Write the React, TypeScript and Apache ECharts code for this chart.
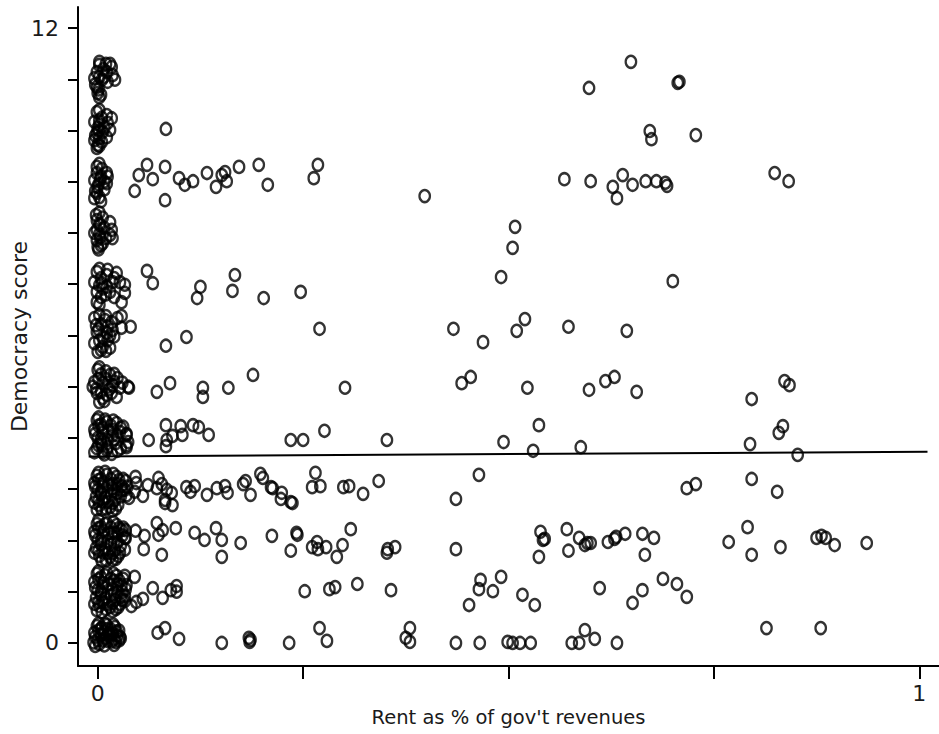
import React, { useEffect, useRef } from "react";
import * as echarts from "echarts";

// Each band: [rent share of gov't revenues, jittered democracy score]
const scoreBand11: number[][] = [
  [0.002, 11.28], [0.017, 11.24], [-0.001, 11.14], [0.011, 11.14], [0.018, 11.08], [-0.004, 11.02],
  [0.005, 10.99], [0.012, 10.95], [0.021, 10.99], [-0.001, 10.85], [0, 10.73], [0.002, 10.65],
  [0.007, 11.2], [0.008, 11.05], [-0.003, 10.9], [0.015, 11.3],
  [0.002, 11.34], [0.01, 11.3], [0.002, 11.05], [0.001, 10.8], [0.004, 10.7],
  [0.649, 11.34], [0.598, 10.83], [0.706, 10.93], [0.708, 10.95],
];
const scoreBand10: number[][] = [
  [-0.001, 10.36], [0.011, 10.3], [0.017, 10.24], [-0.004, 10.17], [0.012, 10.15], [0, 10.05],
  [0.015, 10.01], [-0.001, 9.95], [0.011, 9.87], [-0.004, 9.81], [0, 9.72], [-0.001, 9.66],
  [0.002, 10.11], [0.006, 9.97], [0.005, 10.25], [0.008, 10.05], [-0.003, 9.9], [0.005, 9.78],
  [0.002, 10.4], [0.002, 10.2], [0.001, 10.0], [0.002, 9.85], [0.002, 9.7],
  [0.083, 10.03], [0.672, 9.99], [0.674, 9.83], [0.728, 9.91],
];
const scoreBand9: number[][] = [
  [-0.001, 9.29], [0.011, 9.17], [-0.001, 9.17], [-0.004, 9.03], [0.011, 8.97], [0, 8.9],
  [-0.001, 8.78], [-0.004, 8.68], [0.002, 8.7], [0.004, 9.1], [0.008, 8.85],
  [0.005, 9.25], [0.008, 9.0], [-0.003, 8.82], [0.012, 9.1],
  [0.002, 9.35], [0.003, 9.05], [0.001, 8.95], [0.004, 8.62],
  [0.045, 8.82], [0.05, 9.13], [0.06, 9.33], [0.067, 9.05], [0.082, 9.29], [0.082, 8.64],
  [0.099, 9.07], [0.106, 8.94], [0.116, 9.01], [0.133, 9.17], [0.144, 8.9], [0.151, 9.13],
  [0.155, 9.19], [0.157, 9.01], [0.172, 9.29], [0.196, 9.33], [0.207, 8.94], [0.263, 9.07],
  [0.268, 9.33], [0.398, 8.72], [0.568, 9.05], [0.6, 9.01], [0.639, 9.13], [0.627, 8.9],
  [0.632, 8.68], [0.651, 8.94], [0.667, 9.01], [0.68, 9.01], [0.691, 8.98], [0.693, 8.92],
  [0.824, 9.17], [0.841, 9.01],
];
const scoreBand8: number[][] = [
  [-0.001, 8.25], [0.015, 8.21], [0.017, 8.06], [-0.001, 8.06], [0.018, 7.9], [-0.001, 7.86],
  [0.015, 7.96], [0, 7.73], [-0.002, 8.35], [0.003, 8.15], [0.002, 7.98], [0.006, 7.8],
  [0.006, 8.3], [0.008, 8.1], [-0.004, 8.0], [0.01, 7.9], [0.004, 7.76],
  [0.002, 8.4], [0.002, 8.18], [0.003, 7.92], [0.001, 7.68],
  [0.508, 8.12], [0.505, 7.71],
];
const scoreBand7: number[][] = [
  [-0.001, 7.24], [0.011, 7.18], [0.023, 7.22], [-0.004, 7.04], [0.005, 7.02], [0.018, 7.04],
  [0.027, 7.04], [0.033, 6.99], [-0.001, 6.85], [0.015, 6.85], [0.033, 6.83], [-0.001, 6.65],
  [0.029, 6.65], [0.011, 6.95], [0.004, 7.12], [0.02, 7.12], [0.004, 6.75], [0.02, 6.75],
  [0.006, 6.92], [0.002, 7.3], [0.012, 7.28], [0.002, 6.98], [0.01, 6.8], [0.002, 6.6],
  [0.06, 7.26], [0.067, 7.02], [0.121, 6.73], [0.125, 6.95], [0.167, 7.18], [0.164, 6.87],
  [0.202, 6.73], [0.247, 6.85], [0.491, 7.14], [0.7, 7.06],
];
const scoreBand6: number[][] = [
  [-0.004, 6.34], [0.009, 6.3], [0.017, 6.26], [0.024, 6.34], [0.029, 6.15], [0.018, 6.11],
  [-0.001, 6.07], [0.011, 6.05], [-0.004, 5.85], [0.006, 5.78], [0.015, 5.76], [0, 5.68],
  [0.012, 5.91], [0.04, 6.17], [0.029, 6.38], [0.004, 6.22], [-0.002, 6.2], [0.006, 5.96],
  [0.02, 5.98], [0.004, 5.72], [0.012, 6.18],
  [0.002, 6.4], [0.01, 6.38], [0.001, 6.12], [0.015, 6.0], [0.002, 5.9], [0.01, 5.7],
  [0.083, 5.8], [0.108, 5.97], [0.27, 6.13], [0.433, 6.13], [0.469, 5.87], [0.51, 6.09],
  [0.52, 6.32], [0.573, 6.17], [0.644, 6.09],
];
const scoreBand5: number[][] = [
  [0, 5.33], [0.015, 5.23], [0.024, 5.17], [-0.004, 5.09], [0.006, 5.07], [0.018, 5.03],
  [0.027, 4.98], [-0.001, 4.88], [0.011, 4.84], [0.023, 4.8], [0.002, 4.7], [0.037, 5.0],
  [-0.006, 5.0], [0.038, 4.98], [0.004, 5.24], [0.01, 5.15], [-0.002, 4.95], [0.014, 4.95],
  [0.02, 5.1], [0.006, 4.78], [0.03, 5.08],
  [0.002, 5.38], [0.01, 5.3], [0.02, 5.25], [0.001, 5.15], [0.012, 5.0], [0.004, 4.9],
  [0.017, 4.88], [0.008, 4.72],
  [0.072, 4.9], [0.088, 5.07], [0.128, 4.98], [0.128, 4.8], [0.159, 4.98], [0.189, 5.23],
  [0.301, 4.98], [0.443, 5.07], [0.454, 5.19], [0.523, 4.98], [0.598, 4.94], [0.618, 5.11],
  [0.629, 5.19], [0.656, 4.9], [0.796, 4.76], [0.836, 5.11], [0.842, 5.03],
];
const scoreBand4: number[][] = [
  [-0.001, 4.35], [0.011, 4.31], [0.023, 4.29], [-0.004, 4.16], [0.006, 4.2], [0.018, 4.16],
  [0.027, 4.12], [0.035, 4.06], [0, 4.0], [0.012, 3.96], [0.037, 3.92], [0.035, 3.82],
  [-0.001, 3.8], [0.011, 3.77], [0.017, 3.69], [0.005, 3.86], [0.035, 4.08], [0.035, 3.86],
  [0.004, 4.26], [0.016, 4.24], [0.028, 4.2], [-0.003, 4.08], [0.006, 4.1], [0.018, 4.05],
  [0.004, 3.92], [0.022, 3.9], [0.028, 3.8], [0.006, 3.72], [-0.004, 3.72],
  [0.001, 4.4], [0.009, 4.36], [0.019, 4.34], [0.031, 4.22], [0.001, 4.24], [0.013, 4.12],
  [0.024, 4.05], [0.004, 3.98], [0.02, 3.98], [0.001, 3.86], [0.012, 3.82], [0.024, 3.75],
  [0.008, 3.68],
  [0.062, 3.96], [0.083, 4.25], [0.101, 4.23], [0.116, 4.25], [0.123, 4.21], [0.135, 4.06],
  [0.103, 4.06], [0.091, 4.04], [0.084, 3.96], [0.083, 3.84], [0.235, 3.96], [0.25, 3.96],
  [0.276, 4.14], [0.352, 3.96], [0.494, 3.92], [0.537, 4.25], [0.53, 3.75], [0.588, 3.82],
  [0.794, 3.88], [0.834, 4.23], [0.829, 4.1], [0.852, 3.67],
];
const scoreBand3: number[][] = [
  [-0.001, 3.26], [0.011, 3.28], [0.023, 3.24], [-0.004, 3.12], [0.007, 3.14], [0.018, 3.1],
  [0.029, 3.06], [0, 2.99], [0.012, 2.97], [0.024, 2.93], [0.033, 2.99], [-0.002, 2.85],
  [0.009, 2.83], [0.021, 2.79], [0.002, 2.69], [0.015, 2.65], [-0.001, 2.6],
  [0.004, 3.2], [0.016, 3.2], [0.026, 3.18], [-0.003, 3.05], [0.006, 3.05], [0.018, 3.02],
  [0.03, 2.98], [0.004, 2.9], [0.016, 2.9], [0.028, 2.86], [0.006, 2.76], [0.018, 2.73],
  [-0.004, 2.74], [0.01, 2.62], [0.022, 2.62],
  [0.001, 3.32], [0.009, 3.34], [0.019, 3.3], [0.031, 3.2], [0.001, 3.18], [0.013, 3.08],
  [0.024, 3.1], [0.036, 3.05], [0.004, 2.94], [0.02, 2.96], [0.035, 2.88], [0.001, 2.78],
  [0.012, 2.75], [0.025, 2.7], [0.005, 2.6], [0.018, 2.58],
  [0.034, 3.16], [0.046, 3.24], [0.047, 3.12], [0.038, 2.83], [0.055, 2.87], [0.045, 2.95],
  [0.061, 3.08], [0.074, 3.22], [0.078, 3.1], [0.072, 3.02], [0.084, 2.99], [0.09, 2.93],
  [0.082, 2.79], [0.091, 2.69], [0.082, 2.73], [0.108, 3.04], [0.118, 3.06], [0.113, 2.95],
  [0.133, 2.89], [0.145, 3.02], [0.155, 3.06], [0.158, 2.93], [0.177, 3.1], [0.18, 3.16],
  [0.186, 2.89], [0.198, 3.3], [0.201, 3.22], [0.211, 3.04], [0.213, 3.02], [0.224, 2.93],
  [0.223, 2.81], [0.235, 2.75], [0.237, 2.73], [0.265, 3.32], [0.261, 3.04], [0.271, 3.06],
  [0.299, 3.04], [0.306, 3.06], [0.323, 2.91], [0.342, 3.16], [0.436, 2.81], [0.464, 3.28],
  [0.717, 3.02], [0.728, 3.1], [0.796, 3.2], [0.827, 2.95],
];
const scoreBand2: number[][] = [
  [-0.001, 2.32], [0.011, 2.34], [0.023, 2.3], [-0.004, 2.17], [0.007, 2.19], [0.02, 2.15],
  [0.029, 2.2], [0, 2.01], [0.012, 1.99], [0.024, 1.97], [0.033, 2.05], [-0.002, 1.85],
  [0.009, 1.83], [0.021, 1.81], [0.002, 1.7], [0.015, 1.68], [0.027, 1.76],
  [0.004, 2.26], [0.016, 2.25], [0.026, 2.24], [-0.003, 2.1], [0.006, 2.08], [0.018, 2.07],
  [0.03, 2.1], [0.004, 1.93], [0.016, 1.92], [0.028, 1.9], [0.006, 1.77], [0.018, 1.75],
  [-0.004, 1.76], [0.01, 1.62], [0.022, 1.64],
  [0.001, 2.4], [0.009, 2.32], [0.019, 2.36], [0.031, 2.25], [0.001, 2.24], [0.013, 2.14],
  [0.024, 2.14], [0.034, 2.05], [0.004, 2.0], [0.02, 1.96], [0.033, 1.82], [0.001, 1.8],
  [0.012, 1.75], [0.025, 1.7], [0.005, 1.6], [0.018, 1.62],
  [0.034, 2.2], [0.046, 2.19], [0.057, 2.09], [0.072, 2.34], [0.074, 2.11], [0.079, 2.2],
  [0.095, 2.24], [0.056, 1.83], [0.078, 1.72], [0.118, 2.15], [0.13, 2.01], [0.144, 2.24],
  [0.151, 2.01], [0.151, 1.68], [0.174, 1.95], [0.212, 2.09], [0.242, 2.15], [0.243, 2.11],
  [0.235, 1.8], [0.261, 1.87], [0.267, 1.97], [0.268, 1.83], [0.278, 1.87], [0.298, 1.91],
  [0.291, 1.68], [0.308, 2.22], [0.352, 1.76], [0.362, 1.87], [0.353, 1.83], [0.436, 1.83],
  [0.539, 2.17], [0.542, 2.01], [0.544, 2.03], [0.537, 1.68], [0.571, 2.22], [0.573, 1.8],
  [0.586, 2.05], [0.593, 1.91], [0.596, 1.95], [0.6, 1.95], [0.621, 1.97], [0.629, 2.03],
  [0.631, 2.07], [0.642, 2.13], [0.663, 2.13], [0.677, 2.05], [0.666, 1.72], [0.768, 1.97],
  [0.791, 2.26], [0.796, 1.72], [0.831, 1.87], [0.875, 2.05], [0.881, 2.09], [0.886, 2.05],
  [0.897, 1.91], [0.936, 1.95],
];
const scoreBand1: number[][] = [
  [-0.001, 1.35], [0.011, 1.37], [0.023, 1.31], [-0.004, 1.19], [0.007, 1.17], [0.02, 1.21],
  [0.029, 1.13], [0, 1.03], [0.012, 1.01], [0.024, 1.0], [-0.002, 0.88], [0.009, 0.86],
  [0.021, 0.84], [0.002, 0.72], [0.015, 0.7], [0.027, 0.76], [-0.001, 0.64],
  [0.004, 1.28], [0.016, 1.25], [0.026, 1.22], [-0.003, 1.08], [0.006, 1.1], [0.018, 1.06],
  [0.03, 1.0], [0.004, 0.95], [0.016, 0.93], [0.028, 0.9], [0.006, 0.79], [0.018, 0.78],
  [-0.004, 0.76], [0.01, 0.66], [0.022, 0.66],
  [0.001, 1.4], [0.009, 1.32], [0.019, 1.36], [0.031, 1.25], [0.001, 1.24], [0.013, 1.14],
  [0.024, 1.14], [0.034, 1.05], [0.004, 1.0], [0.02, 0.96], [0.033, 0.82], [0.001, 0.8],
  [0.012, 0.75], [0.025, 0.7], [0.005, 0.6], [0.018, 0.62],
  [0.033, 1.31], [0.045, 1.29], [0.035, 1.13], [0.033, 0.92], [0.03, 0.84], [0.041, 0.72],
  [0.047, 0.8], [0.055, 0.86], [0.067, 1.07], [0.079, 0.88], [0.089, 1.03], [0.096, 1.11],
  [0.096, 1.0], [0.252, 1.01], [0.282, 1.05], [0.289, 1.09], [0.316, 1.15], [0.357, 1.03],
  [0.452, 0.74], [0.464, 1.05], [0.466, 1.23], [0.481, 1.01], [0.491, 1.29], [0.517, 0.94],
  [0.532, 0.74], [0.611, 1.07], [0.651, 0.78], [0.663, 1.03], [0.688, 1.25], [0.705, 1.15],
  [0.717, 0.9],
];
const scoreBand0: number[][] = [
  [-0.001, 0.33], [0.011, 0.35], [0.021, 0.31], [-0.004, 0.2], [0.007, 0.21], [0.018, 0.18],
  [0.024, 0.14], [0, 0.06], [0.012, 0.04], [0.022, 0.02], [0.002, -0.02],
  [0.004, 0.28], [0.016, 0.26], [0.026, 0.24], [-0.003, 0.12], [0.009, 0.1], [0.02, 0.08],
  [0.005, 0.3], [0.014, 0.13], [0.026, 0.05], [-0.005, 0.01],
  [0.001, 0.38], [0.009, 0.38], [0.019, 0.36], [0.001, 0.24], [0.012, 0.27], [0.023, 0.22],
  [0.004, 0.16], [0.013, 0.19], [0.027, 0.12], [0.006, 0.05], [0.017, 0.03], [0.028, 0.09],
  [-0.003, -0.06], [0.008, -0.05], [0.02, -0.04],
  [0.073, 0.2], [0.082, 0.29], [0.099, 0.08], [0.151, 0.0], [0.184, 0.1], [0.185, 0.02],
  [0.186, 0.06], [0.233, 0.0], [0.27, 0.29], [0.279, 0.04], [0.38, 0.29], [0.375, 0.1],
  [0.38, 0.02], [0.436, 0.0], [0.465, 0.0], [0.499, 0.02], [0.505, 0.0], [0.514, 0.0],
  [0.527, 0.0], [0.577, 0.0], [0.586, 0.0], [0.593, 0.25], [0.605, 0.08], [0.632, 0.0],
  [0.814, 0.29], [0.88, 0.29],
];

const fitLine: number[][] = [[-0.011, 3.64], [1.01, 3.73]];
const xTickValues = [0, 0.25, 0.5, 0.75, 1];
const xLabelValues = [0, 1];
const yTickValues = [0, 1, 2, 3, 4, 5, 6, 7, 8, 9, 10, 11, 12];
const yLabelValues = [0, 12];
const xTitle = "Rent as % of gov't revenues";
const yTitle = "Democracy score";

const allPoints = [
  ...scoreBand0, ...scoreBand1, ...scoreBand2, ...scoreBand3, ...scoreBand4, ...scoreBand5,
  ...scoreBand6, ...scoreBand7, ...scoreBand8, ...scoreBand9, ...scoreBand10, ...scoreBand11,
];

const FONT = "DejaVu Sans";

export default function App() {
  const ref = useRef<HTMLDivElement>(null);
  useEffect(() => {
    if (!ref.current) return;
    const chart = echarts.init(ref.current, null, { renderer: "svg" });
    chart.setOption({
      animation: false,
      backgroundColor: "#ffffff",
      grid: { left: 78, right: 0, top: 7, bottom: 68, containLabel: false, outerBoundsMode: "none" },
      xAxis: {
        type: "value",
        min: -0.024,
        max: 1.024,
        name: xTitle,
        nameLocation: "middle",
        nameGap: 41,
        nameMoveOverlap: false,
        nameTextStyle: { fontFamily: FONT, fontSize: 19.5, color: "#1a1a1a" },
        axisLine: { show: true, onZero: false, lineStyle: { color: "#000", width: 2 } },
        axisTick: { show: true, customValues: xTickValues, length: 13, lineStyle: { color: "#000", width: 2 } },
        axisLabel: { customValues: xLabelValues, margin: 16, fontFamily: FONT, fontSize: 22, color: "#1a1a1a" },
        splitLine: { show: false },
      },
      yAxis: {
        type: "value",
        min: -0.45,
        max: 12.41,
        name: yTitle,
        nameLocation: "middle",
        nameGap: 48,
        nameMoveOverlap: false,
        nameTextStyle: { fontFamily: FONT, fontSize: 22, color: "#1a1a1a" },
        axisLine: { show: true, onZero: false, lineStyle: { color: "#000", width: 2 } },
        axisTick: { show: true, customValues: yTickValues, length: 10, lineStyle: { color: "#000", width: 2 } },
        axisLabel: { customValues: yLabelValues, margin: 19, fontFamily: FONT, fontSize: 22, color: "#1a1a1a" },
        splitLine: { show: false },
      },
      series: [
        {
          type: "scatter",
          data: allPoints,
          symbol: "circle",
          symbolSize: [10.5, 12],
          itemStyle: { color: "rgba(0,0,0,0)", borderColor: "#000", borderWidth: 2.4 },
          emphasis: { disabled: true },
        },
        {
          type: "line",
          data: fitLine,
          showSymbol: false,
          symbol: "none",
          lineStyle: { color: "#000", width: 2 },
          emphasis: { disabled: true },
        },
      ],
    });
    return () => chart.dispose();
  }, []);
  return (
    <div
      ref={ref}
      style={{ position: "fixed", left: 0, top: 0, width: 939, height: 734, background: "#fff" }}
    />
  );
}
